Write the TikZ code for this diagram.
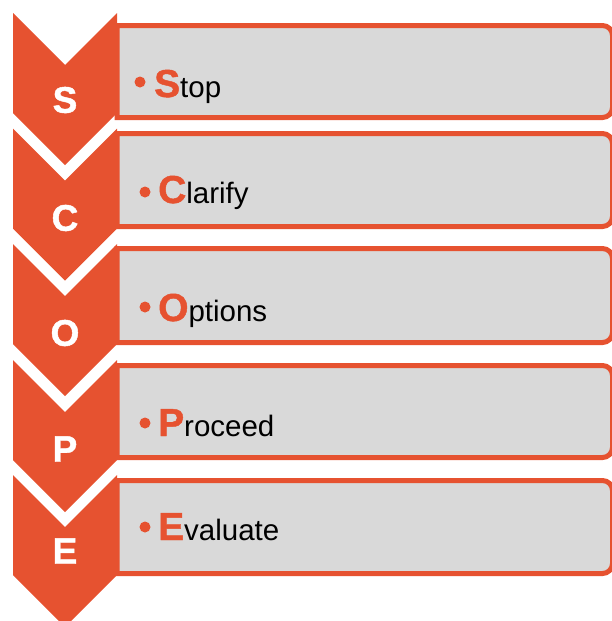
\documentclass[tikz,border=0pt]{standalone}
\usepackage{fontspec}
\setmainfont{Liberation Sans}
\newfontfamily\heavyfont{Liberation Sans Bold}[FakeBold=1.2]
\usepackage{tikz}
\definecolor{scopeorange}{HTML}{E65230}
\definecolor{boxgray}{HTML}{D9D9D9}
\newcommand{\firstletter}[1]{{\color{scopeorange}\fontsize{39}{40}\heavyfont #1}}
\begin{document}
\begin{tikzpicture}[x=1pt,y=-1pt,
  chev/.style={fill=scopeorange},
  item/.style={draw=scopeorange,fill=boxgray,line width=5pt},
  tag/.style={text=white,font=\fontsize{37}{40}\heavyfont,inner sep=0pt},
  dot/.style={circle,fill=scopeorange,inner sep=0pt,minimum size=11pt},
  word/.style={anchor=base west,inner sep=0pt,font=\fontsize{29.5}{32}\selectfont}]
\useasboundingbox (0,0) rectangle (612,621);
\draw[item] (117,25.5) -- (602.5,25.5) arc[start angle=-90,end angle=0,radius=10] -- (612.5,107.5) arc[start angle=0,end angle=90,radius=10] -- (117,117.5) -- cycle;
\draw[item] (117,133.5) -- (602.5,133.5) arc[start angle=-90,end angle=0,radius=10] -- (612.5,216.5) arc[start angle=0,end angle=90,radius=10] -- (117,226.5) -- cycle;
\draw[item] (117,248.5) -- (602.5,248.5) arc[start angle=-90,end angle=0,radius=10] -- (612.5,332.5) arc[start angle=0,end angle=90,radius=10] -- (117,342.5) -- cycle;
\draw[item] (117,365.5) -- (602.5,365.5) arc[start angle=-90,end angle=0,radius=10] -- (612.5,447.5) arc[start angle=0,end angle=90,radius=10] -- (117,457.5) -- cycle;
\draw[item] (117,480.5) -- (602.5,480.5) arc[start angle=-90,end angle=0,radius=10] -- (612.5,563.5) arc[start angle=0,end angle=90,radius=10] -- (117,573.5) -- cycle;
\fill[chev] (13,13) -- (65,65) -- (117,13) -- (117,113) -- (65,165) -- (13,113) -- cycle;
\fill[chev] (13,128.5) -- (65,180.5) -- (117,128.5) -- (117,228.5) -- (65,280.5) -- (13,228.5) -- cycle;
\fill[chev] (13,244) -- (65,296) -- (117,244) -- (117,344) -- (65,396) -- (13,344) -- cycle;
\fill[chev] (13,360) -- (65,412) -- (117,360) -- (117,460) -- (65,512) -- (13,460) -- cycle;
\fill[chev] (13,475) -- (65,527) -- (117,475) -- (117,575) -- (65,627) -- (13,575) -- cycle;
\node[tag] (s) at (65,100) {S};
\node[tag] (c) at (65,218) {C};
\node[tag] (o) at (65,333) {O};
\node[tag] (p) at (65,449) {P};
\node[tag] (e) at (65,551) {E};
\node[dot] (dots) at (140,82) {};
\node[dot] (dotc) at (145,192) {};
\node[dot] (doto) at (145,307) {};
\node[dot] (dotp) at (145,423) {};
\node[dot] (dote) at (145,527) {};
\node[word] (stop) at (154,97) {\firstletter{S}top};
\node[word] (clarify) at (158,203) {\firstletter{C}larify};
\node[word] (options) at (158,321) {\firstletter{O}ptions};
\node[word] (proceed) at (158,436) {\firstletter{P}roceed};
\node[word] (evaluate) at (158,540) {\firstletter{E}valuate};
\end{tikzpicture}
\end{document}
